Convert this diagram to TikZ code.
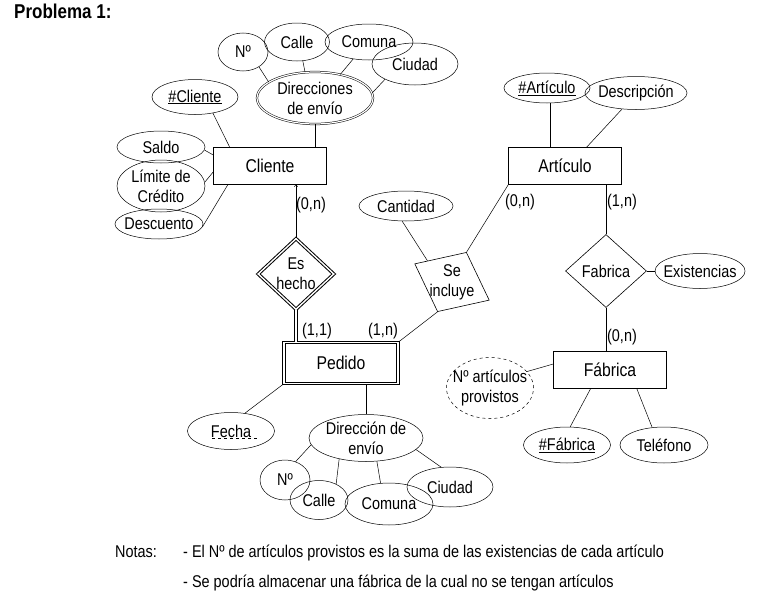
\documentclass[tikz,border=0pt]{standalone}
\usepackage{fontspec}
\setmainfont{Liberation Sans}[FakeStretch=0.85]
\usepackage{graphicx}
\usetikzlibrary{positioning,shapes,arrows,calc}
\tikzset{entity/.style={rectangle, draw=black, line width=0.6pt,
    minimum width=113pt, minimum height=37pt, font=\fontsize{18.5}{21}\selectfont},
  weakentity/.style={entity, double, double distance=1.4pt, line width=1pt},
  attrib/.style={ellipse, draw=black, line width=0.5pt, inner sep=-20pt, align=center},
  multiattrib/.style={attrib, double, double distance=1.2pt},
  derivattrib/.style={attrib, dashed},
  relation/.style={diamond, draw=black, line width=0.6pt, inner sep=-20pt, align=center},
  weakrelation/.style={relation, double, double distance=1.4pt, line width=1pt},
  card/.style={inner sep=1pt},
  myarrow/.style={->, >=to, line width=0.5pt},
  line/.style={-, line width=0.5pt},
  doubleline/.style={-, double, double distance=1.4pt, line width=1pt}
}

\begin{document}
\begin{tikzpicture}[x=1pt, y=-1pt, font=\fontsize{17}{20}\selectfont]

   \useasboundingbox[fill=white] (0,0) rectangle (761,597);

   %Title node
   \node (Titulo) [anchor=base west, inner sep=0pt, font=\bfseries\fontsize{20}{24}\selectfont]
   at (14,18) {Problema 1:};

   %Cliente node and its attributes
   \node (Cliente) [entity] at (270,166) {Cliente};
   \node (Cli-num) [attrib, minimum width=86pt, minimum height=35pt] at (195,97) {\underline{\#Cliente}};
   \node (Saldo) [attrib, minimum width=88pt, minimum height=32pt] at (161,147) {Saldo};
   \node (Limite) [attrib, minimum width=88pt, minimum height=52pt] at (161,186) {Límite de\\Crédito};
   \node (Descuento) [attrib, minimum width=88pt, minimum height=30pt] at (159,224) {Descuento};

   %Direcciones de envio (multivalued) and its parts
   \node (Direcciones) [multiattrib, minimum width=116pt, minimum height=52pt] at (315,98) {Direcciones\\de envío};
   \node (Dir-num) [attrib, minimum width=50pt, minimum height=38pt] at (243,52) {Nº};
   \node (Dir-calle) [attrib, minimum width=65pt, minimum height=38pt] at (297,42) {Calle};
   \node (Dir-comuna) [attrib, minimum width=88pt, minimum height=36pt] at (369,42) {Comuna};
   \node (Dir-ciudad) [attrib, minimum width=86pt, minimum height=42pt] at (415,64) {Ciudad};

   %Es hecho node (weak relation)
   \node (Es-hecho) [weakrelation, minimum width=76pt, minimum height=71pt] at (296,274) {Es\\hecho};

   %Pedido node (weak entity) and its attributes
   \node (Pedido) [weakentity, minimum width=114pt, minimum height=41pt] at (341,363) {Pedido};
   \node (Fecha) [attrib, minimum width=87pt, minimum height=37pt] at (231,431) {Fecha};
   \node (Direccion) [attrib, minimum width=114pt, minimum height=47pt] at (366,438) {Dirección de\\envío};
   \node (Dir2-num) [attrib, minimum width=50pt, minimum height=40pt] at (285,480) {Nº};
   \node (Dir2-calle) [attrib, minimum width=58pt, minimum height=39pt] at (319,500) {Calle};
   \node (Dir2-comuna) [attrib, minimum width=88pt, minimum height=42pt] at (389,504) {Comuna};
   \node (Dir2-ciudad) [attrib, minimum width=86pt, minimum height=40pt] at (450,487) {Ciudad};

   %Se incluye node, turned
   \node (Se-incluye) [relation, rotate=-26, minimum width=83pt, minimum height=66pt] at (452,282)
   {\rotatebox{26}{\begin{tabular}{@{}c@{}}Se\\incluye\end{tabular}}};
   \node (Cantidad) [attrib, minimum width=94pt, minimum height=30pt] at (406,206) {Cantidad};

   %Articulo node and its attributes
   \node (Articulo) [entity] at (565,166) {Artículo};
   \node (Art-num) [attrib, minimum width=86pt, minimum height=30pt] at (547,88) {\underline{\#Artículo}};
   \node (Descripcion) [attrib, minimum width=102pt, minimum height=33pt] at (636,93) {Descripción};

   %Fabrica relation and Fabrica entity
   \node (Fabrica-rel) [relation, minimum width=81pt, minimum height=73pt] at (606,271) {Fabrica};
   \node (Existencias) [attrib, minimum width=90pt, minimum height=35pt, right=8pt of Fabrica-rel] {Existencias};
   \node (Fabrica) [entity] at (610,370) {Fábrica};
   \node (Provistos) [derivattrib, minimum width=87pt, minimum height=61pt] at (490,388) {Nº artículos\\provistos};
   \node (Fab-num) [attrib, minimum width=87pt, minimum height=36pt] at (567,445) {\underline{\#Fábrica}};
   \node (Telefono) [attrib, minimum width=88pt, minimum height=36pt] at (664,445) {Teléfono};

   %Cardinalities
   \node (Card-cli) [card] at (311,205) {(0,n)};
   \node (Card-ped-1) [card] at (317,331) {(1,1)};
   \node (Card-ped-2) [card] at (383,331) {(1,n)};
   \node (Card-art-1) [card] at (520,202) {(0,n)};
   \node (Card-art-2) [card] at (622,202) {(1,n)};
   \node (Card-fab) [card] at (622,337) {(0,n)};

   %Notes
   \node (Notas) [anchor=base west, inner sep=0pt] at (115,557) {Notas:};
   \node (Nota-1) [anchor=base west, inner sep=0pt] at (183,557)
   {- El Nº de artículos provistos es la suma de las existencias de cada artículo};
   \node (Nota-2) [anchor=base west, inner sep=0pt] at (183,587)
   {- Se podría almacenar una fábrica de la cual no se tengan artículos};

   %Cliente lines
   \draw[line] (Cli-num.-42) -- (Cliente.155);
   \draw[line] (Saldo.-4) -- (Cliente.169);
   \draw[line] (Limite.5) -- (Cliente.186);
   \draw[line] (Descuento.-4) -- (Cliente.204);
   \draw[line] (Direcciones.south) -- (Direcciones.south |- Cliente.north);
   \draw[line] (Dir-num.-43) -- (Direcciones.161);
   \draw[line] (Dir-calle.-73) -- (Direcciones.111);
   \draw[line] (Dir-comuna.-133) -- (Direcciones.43);
   \draw[line] (Dir-ciudad.-153) -- (Direcciones.5);

   %Es hecho lines
   \draw[myarrow] (Es-hecho.north) -- (Es-hecho.north |- Cliente.south);
   \draw[doubleline] (Es-hecho.south) -- (Es-hecho.south |- Pedido.north);

   %Pedido lines
   \draw[line, dashed] ($(Fecha.center)+(-19,7)$) -- ($(Fecha.center)+(27,7)$);
   \draw[line] (Pedido.south west) -- (Fecha.52);
   \draw[line] (Direccion.north |- Pedido.south) -- (Direccion.north);
   \draw[line] (Direccion.187) -- (Dir2-num.60);
   \draw[line] (Direccion.218) -- (Dir2-calle.43);
   \draw[line] (Direccion.-65) -- (Dir2-comuna.112);
   \draw[line] (Direccion.-13) -- (Dir2-ciudad.114);

   %Se incluye lines
   \draw[line] (Pedido.north east) -- (Se-incluye.south);
   \draw[line] (Articulo.south west) -- (Se-incluye.north);
   \draw[line] (Cantidad.-104) -- ($(Se-incluye.west)!0.25!(Se-incluye.north)$);

   %Articulo and Fabrica lines
   \draw[line] (Art-num.-79) -- (Art-num.-79 |- Articulo.north);
   \draw[line] (Descripcion.-131) -- (Articulo.41);
   \draw[line] (Fabrica-rel.north |- Articulo.south) -- (Fabrica-rel.north);
   \draw[line] (Fabrica-rel.east) -- (Existencias.west);
   \draw[line] (Fabrica-rel.south) -- (Fabrica-rel.south |- Fabrica.north);
   \draw[line] (Provistos.24) -- (Fabrica.174);
   \draw[line] (Fabrica.224) -- (Fab-num.80);
   \draw[line] (Fabrica.-35) -- (Telefono.124);

\end{tikzpicture}
\end{document}
